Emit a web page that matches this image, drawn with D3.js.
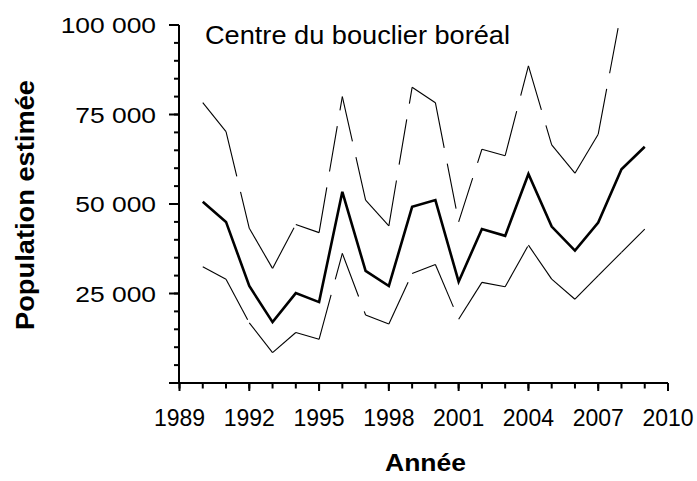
<!DOCTYPE html>
<html>
<head>
<meta charset="utf-8">
<script src="https://cdn.jsdelivr.net/npm/d3@7"></script>
<style>
body { margin: 0; background: #fff; }
text { font-family: "Liberation Sans", Arial, sans-serif; fill: #000; }
</style>
</head>
<body>
<svg id="chart" width="697" height="481"></svg>
<script>
// values (thousands of birds)
var years = [1990, 1991, 1992, 1993, 1994, 1995, 1996, 1997, 1998, 1999,
             2000, 2001, 2002, 2003, 2004, 2005, 2006, 2007, 2008, 2009];
var estimate = [50.6, 45.0, 27.1, 17.0, 25.1, 22.6, 53.4, 31.3, 27.1, 49.2,
                51.1, 28.3, 43.0, 41.1, 58.4, 43.7, 37.0, 44.8, 59.7, 66.0];
var lower = [32.5, 29.0, 16.8, 8.5, 14.1, 12.2, 36.2, 19.0, 16.5, 30.6,
             33.1, 17.8, 28.1, 26.9, 38.5, 29.0, 23.4, 30.0, 36.5, 43.0];
var upper = [78.3, 70.2, 43.2, 32.0, 44.3, 42.0, 80.0, 51.1, 43.9, 82.6,
             78.3, 45.0, 65.3, 63.5, 88.6, 66.5, 58.6, 69.5, 104.2, 115.0];

var xTickLabels = [1989, 1992, 1995, 1998, 2001, 2004, 2007, 2010];
var yTickLabels = [25000, 50000, 75000, 100000];

var title = "Centre du bouclier boréal";
var xTitle = "Année";
var yTitle = "Population estimée";

var svg = d3.select('#chart');

var x = d3.scaleLinear().domain([1989, 2010]).range([179.5, 668]);
var y = d3.scaleLinear().domain([0, 100000]).range([383, 25]);

var fr = d3.formatLocale({decimal: ",", thousands: " ", grouping: [3], currency: ["", " €"]}).format(",");

svg.append('clipPath').attr('id', 'plotclip')
    .append('rect').attr('x', 179).attr('y', 25).attr('width', 495).attr('height', 360);

var styleAxis = function(g) {
    g.selectAll('line,path').attr('stroke', '#000').attr('stroke-width', 2);
    g.selectAll('text').remove();
}

// y axis : minor every 5 000, major every 25 000
svg.append('g').attr('transform', 'translate(179,0)')
    .call(d3.axisLeft(y).tickValues(d3.range(0, 100001, 5000)).tickSize(5).tickSizeOuter(0).offset(0))
    .call(styleAxis);
svg.append('g').attr('transform', 'translate(179,0)')
    .call(d3.axisLeft(y).tickValues(d3.range(0, 100001, 25000)).tickSize(10).tickSizeOuter(0).offset(0))
    .call(styleAxis);

// x axis : minor every year, major every 3 years
svg.append('g').attr('transform', 'translate(0,383)')
    .call(d3.axisBottom(x).tickValues(d3.range(1989, 2011)).tickSize(5.5).tickSizeOuter(0).offset(0))
    .call(styleAxis);
svg.append('g').attr('transform', 'translate(0,383)')
    .call(d3.axisBottom(x).tickValues(xTickLabels).tickSize(8).tickSizeOuter(0).offset(0))
    .call(styleAxis);

// tick labels
svg.selectAll('.ylab').data(yTickLabels).enter().append('text')
    .attr('class', 'ylab')
    .attr('text-anchor', 'end')
    .attr('font-size', 22)
    .attr('transform', function(d) { return 'translate(156,' + (y(d) + 8) + ') scale(1.2,1)'; })
    .text(function(d) { return fr(d); });

svg.selectAll('.xlab').data(xTickLabels).enter().append('text')
    .attr('class', 'xlab')
    .attr('text-anchor', 'middle')
    .attr('font-size', 23)
    .attr('x', function(d) { return x(d); })
    .attr('y', 426)
    .text(function(d) { return d; });

// titles
svg.append('text').text(title)
    .attr('x', 205).attr('y', 43.5).attr('font-size', 25)
    .attr('textLength', 305).attr('lengthAdjust', 'spacingAndGlyphs');

svg.append('text').text(xTitle)
    .attr('x', 385).attr('y', 470.5).attr('font-size', 23).attr('font-weight', 'bold')
    .attr('textLength', 81).attr('lengthAdjust', 'spacingAndGlyphs');

svg.append('text').text(yTitle)
    .attr('transform', 'translate(33.5,330) rotate(-90)')
    .attr('font-size', 25).attr('font-weight', 'bold')
    .attr('textLength', 250).attr('lengthAdjust', 'spacingAndGlyphs');

var plot = svg.append('g').attr('clip-path', 'url(#plotclip)');

// confidence limits: each segment dashed on its own (dash restarts at every point)
[lower, upper].forEach(function(series) {
    var pts = years.map(function(yr, i) { return [x(yr), y(series[i] * 1000)]; });
    plot.selectAll(null).data(d3.pairs(pts)).enter().append('line')
        .attr('x1', function(d) { return d[0][0]; })
        .attr('y1', function(d) { return d[0][1]; })
        .attr('x2', function(d) { return d[1][0]; })
        .attr('y2', function(d) { return d[1][1]; })
        .attr('stroke', '#000')
        .attr('stroke-width', 1.1)
        .attr('stroke-dasharray', '46,16');
});

var line = d3.line()
    .x(function(d, i) { return x(years[i]); })
    .y(function(d) { return y(d * 1000); });

plot.append('path').datum(estimate)
    .attr('d', line)
    .attr('fill', 'none')
    .attr('stroke', '#000')
    .attr('stroke-width', 2.6)
    .attr('stroke-linejoin', 'miter');
</script>
</body>
</html>
